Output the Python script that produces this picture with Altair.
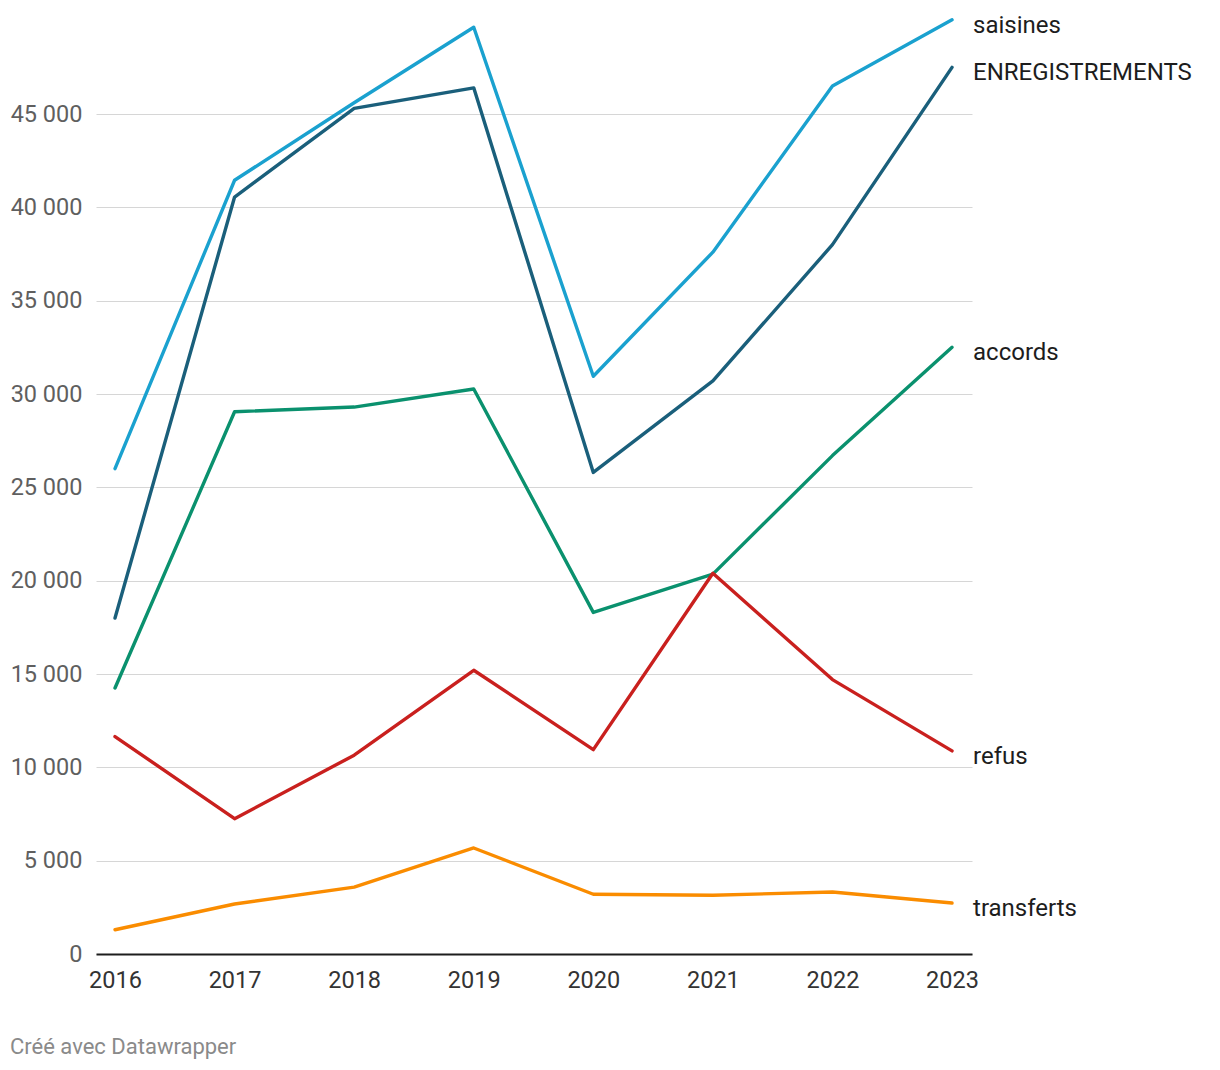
import altair as alt
import pandas as pd

years = [2016, 2017, 2018, 2019, 2020, 2021, 2022, 2023]
series_names = ["saisines", "ENREGISTREMENTS", "accords", "refus", "transferts"]
saisines = [26000, 41450, 45600, 49650, 30950, 37600, 46500, 50050]
enregistrements = [18000, 40550, 45300, 46400, 25800, 30700, 38000, 47500]
accords = [14250, 29050, 29300, 30270, 18300, 20350, 26700, 32500]
refus = [11650, 7250, 10650, 15200, 10950, 20400, 14700, 10880]
transferts = [1300, 2680, 3580, 5680, 3200, 3150, 3320, 2730]
colors = ["#1aa1cf", "#1a5f7b", "#0a916e", "#c9201e", "#fa8c00"]
y_ticks = [0, 5000, 10000, 15000, 20000, 25000, 30000, 35000, 40000, 45000]

values = [saisines, enregistrements, accords, refus, transferts]
rows = []
for name, vals in zip(series_names, values):
    for yr, v in zip(years, vals):
        rows.append({"year": yr, "series": name, "value": v})
df = pd.DataFrame(rows)

W, H = 876, 938
x_scale = alt.Scale(domain=[2015.841, 2023.167], nice=False, zero=False)
y_scale = alt.Scale(domain=[0, 50250], nice=False)
color_scale = alt.Scale(domain=series_names, range=colors)

base = alt.Chart(df)

lines = base.mark_line(strokeWidth=3.4, strokeJoin="round", strokeCap="round").encode(
    x=alt.X("year:Q", scale=x_scale, title=None,
            axis=alt.Axis(values=years, format="d", grid=False, ticks=False,
                          domainColor="#1d1d1d", domainWidth=2,
                          labelFont="Roboto", labelFontSize=23.5, labelColor="#333333",
                          labelPadding=14, labelFlush=False)),
    y=alt.Y("value:Q", scale=y_scale, title=None,
            axis=alt.Axis(values=y_ticks, grid=True, gridColor="#d6d6d6", gridWidth=1,
                          domain=False, ticks=False,
                          labelExpr="datum.value >= 1000 ? floor(datum.value/1000) + ' 000' : datum.label",
                          labelFont="Roboto", labelFontSize=23.5, labelColor="#5f5f5f",
                          labelPadding=14)),
    color=alt.Color("series:N", scale=color_scale, legend=None),
    detail="series:N",
)

labels = base.transform_filter(alt.datum.year == 2023).mark_text(
    align="left", baseline="middle", dx=21, dy=6, font="Roboto", fontSize=24, color="#1d1d1d"
).encode(
    x=alt.X("year:Q", scale=x_scale),
    y=alt.Y("value:Q", scale=y_scale),
    text="series:N",
)

footer = alt.Chart(pd.DataFrame({"t": ["Créé avec Datawrapper"]})).mark_text(
    align="left", baseline="middle", font="Roboto", fontSize=22, color="#8a8a8a"
).encode(x=alt.value(-86), y=alt.value(1031), text="t:N")

chart = alt.layer(lines, labels, footer).properties(
    width=W, height=H,
    autosize=alt.AutoSizeParams(type="none"),
    padding={"left": 88, "top": 8, "right": 230, "bottom": 116},
).configure_view(stroke=None)

chart.save("out.html", embed_options={"renderer": "svg", "actions": False})
